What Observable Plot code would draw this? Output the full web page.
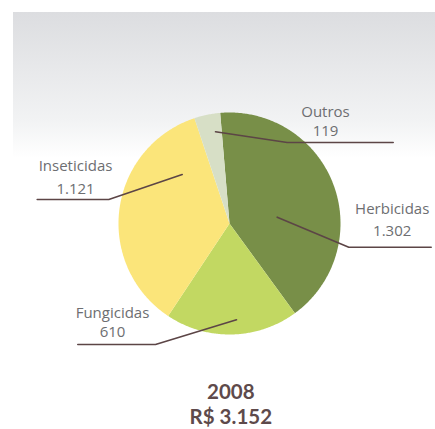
<!DOCTYPE html>
<html>
<head>
<meta charset="utf-8">
<script src="https://cdn.jsdelivr.net/npm/d3@7"></script>
<script src="https://cdn.jsdelivr.net/npm/@observablehq/plot@0.6"></script>
<style>
  html, body { margin: 0; padding: 0; background: #ffffff; }
  #chart svg {
    display: block;
    background: linear-gradient(#dcdde0, #f2f3f4 75%, #ffffff) 13px 12px / 422px 146px no-repeat !important;
  }
</style>
</head>
<body>
<div id="chart"></div>
<script>
// ---- data ----
const categories = ["Herbicidas", "Fungicidas", "Inseticidas", "Outros"];
const values = [1302, 610, 1121, 119];
const colors = ["#788f48", "#c2d862", "#fbe57a", "#d7dfc6"];
const yearLabel = "2008";
const totalLabel = "R$ 3.152";

// ---- layout constants ----
const W = 435, H = 429;
const cx = 229, cy = 223, R = 111;
const startAngle = -0.084; // radians, clockwise from 12 o'clock
const labelPos = { // [centerX, nameBaseline, valueBaseline]
  Herbicidas: [391.7, 213.3, 235],
  Fungicidas: [112, 317.3, 336],
  Inseticidas: [75, 170.7, 193.3],
  Outros: [325, 116.7, 135]
};
const leaderPos = {
  Herbicidas: [[276.7, 216.7], [348.3, 246.7], [430.7, 246.7]],
  Fungicidas: [[236, 319.3], [155, 344], [77.3, 344]],
  Inseticidas: [[181.7, 174], [108.3, 199], [36.7, 199]],
  Outros: [[215, 131.3], [286.7, 142], [392.7, 142]]
};
const fs = 15;
const tfs = 20.5;

// ---- slices from data ----
const table = categories.map((name, i) => ({name, value: values[i]}));
const arcs = d3.pie().sort(null).value(d => d.value)
  .startAngle(startAngle).endAngle(startAngle + 2 * Math.PI)(table);
const slicePts = [];
for (const a of arcs) {
  const n = Math.max(4, Math.ceil((a.endAngle - a.startAngle) / 0.01));
  slicePts.push({name: a.data.name, x: cx, y: cy});
  for (let k = 0; k <= n; k++) {
    const t = a.startAngle + (a.endAngle - a.startAngle) * k / n;
    slicePts.push({name: a.data.name, x: cx + R * Math.sin(t), y: cy - R * Math.cos(t)});
  }
  slicePts.push({name: a.data.name, x: cx, y: cy});
}

const leaders = [];
for (const name of categories) {
  for (const [x, y] of leaderPos[name]) leaders.push({name, x, y});
}
const fmt = v => v.toLocaleString("pt-BR");
const labelRows = table.flatMap(d => [
  {text: d.name, x: labelPos[d.name][0], y: labelPos[d.name][1] - 0.32 * fs},
  {text: fmt(d.value), x: labelPos[d.name][0], y: labelPos[d.name][2] - 0.32 * fs}
]);
const titleRows = [
  {text: yearLabel + "\n" + totalLabel, x: 230.3, y: (397.3 + 421.7) / 2 - 0.32 * tfs}
];

const chart = Plot.plot({
  width: W,
  height: H,
  margin: 0,
  x: {domain: [0, W], range: [0, W], axis: null},
  y: {domain: [0, H], range: [0, H], axis: null},
  color: {domain: categories, range: colors},
  style: {fontFamily: "'Open Sans', sans-serif", overflow: "visible"},
  marks: [
    Plot.line(slicePts, {x: "x", y: "y", z: "name", fill: "name", stroke: "none", curve: "linear"}),
    Plot.line(leaders, {x: "x", y: "y", z: "name", stroke: "#5c4546", strokeWidth: 1.6}),
    Plot.text(labelRows, {x: "x", y: "y", text: "text", fill: "#6d6e71", fontSize: fs, textAnchor: "middle"}),
    Plot.text(titleRows, {x: "x", y: "y", text: "text", fill: "#5e4a4b", fontSize: tfs, fontWeight: "bold", fontFamily: "Lato, sans-serif", textAnchor: "middle", lineHeight: 24.5 / tfs})
  ]
});
document.getElementById("chart").appendChild(chart);
</script>
</body>
</html>
